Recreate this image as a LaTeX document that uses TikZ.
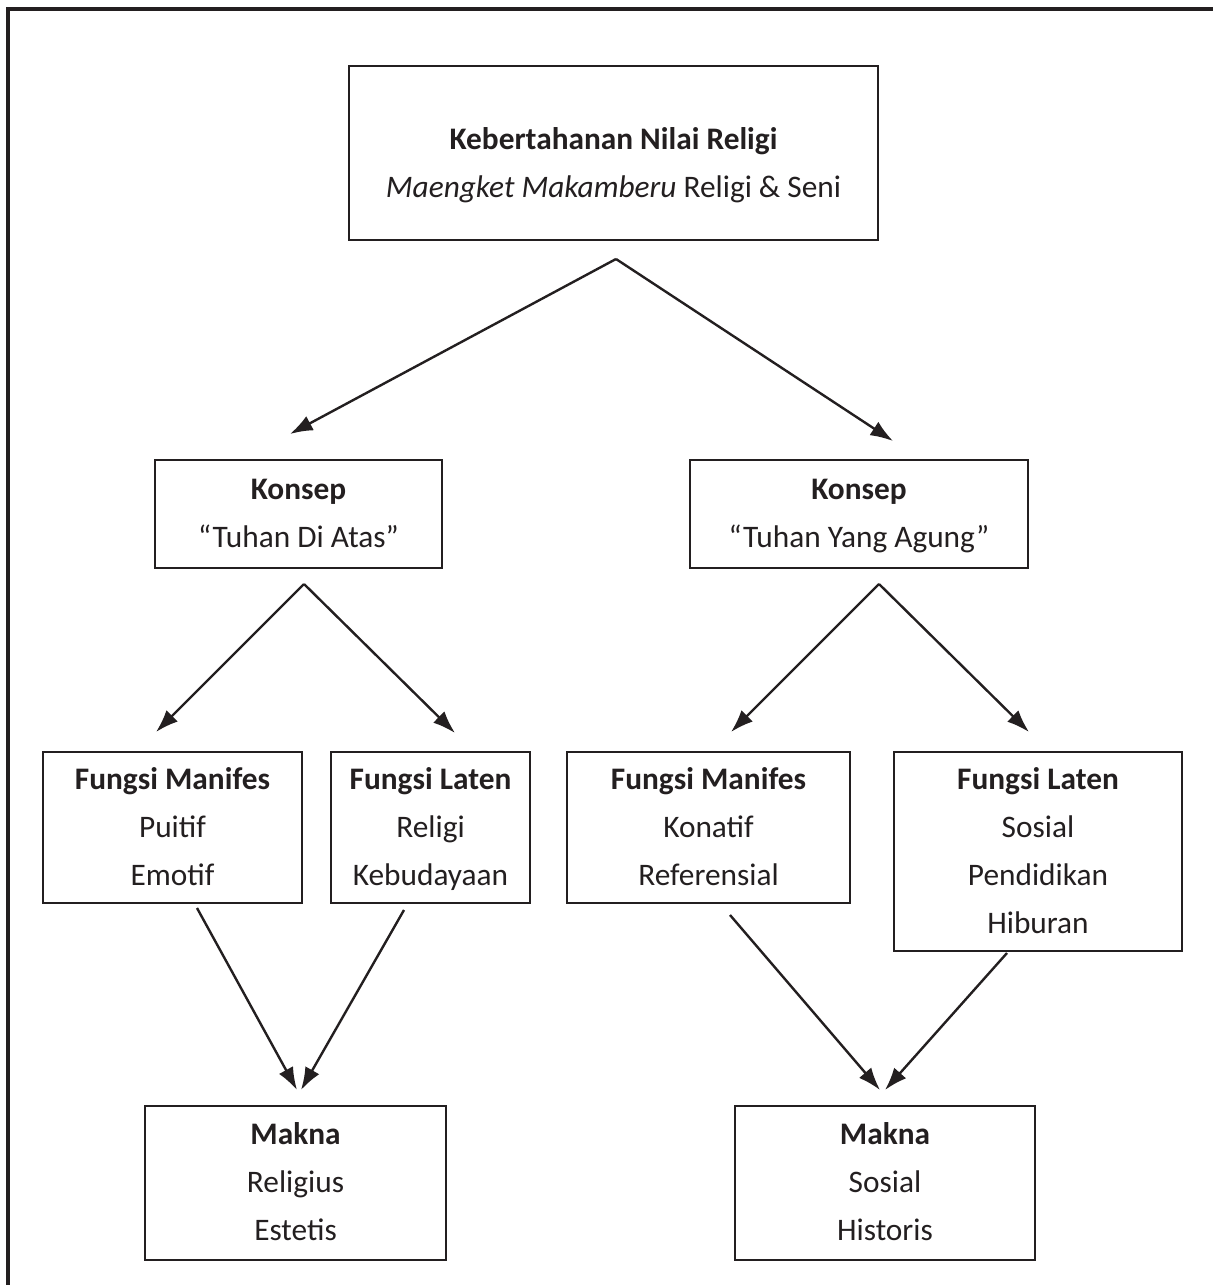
\documentclass[tikz,border=0pt]{standalone}
\usepackage{fontspec}
\setmainfont{Carlito}
\usetikzlibrary{arrows.meta}
\definecolor{ink}{HTML}{231F20}
\begin{document}
\begin{tikzpicture}[x=0.75pt,y=-0.75pt,
  box/.style={draw=ink, line width=2pt, inner sep=0pt, align=center, text=ink,
    font=\fontsize{23.5}{36}\selectfont},
  arr/.style={draw=ink, line width=1.8pt, -{Latex[length=17pt,width=12pt]}},
  frame/.style={draw=ink, line width=2.6pt}]
\useasboundingbox (0,0) rectangle (1213,1285);
\coordinate (f1) at (8,1285);
\coordinate (f2) at (8,9);
\coordinate (f3) at (1213,9);
\draw[frame] (f1) -- (f2) -- (f3);

\node[box, minimum width=396.75pt, minimum height=130.5pt] (top) at (613.5,153)
  {\rule{0pt}{41pt}\textbf{Kebertahanan Nilai Religi}\\\textit{Maengket Makamberu} Religi \& Seni\strut};
\node[box, minimum width=215.25pt, minimum height=81pt] (kL) at (298.5,514)
  {\strut\textbf{Konsep}\\“Tuhan Di Atas”\strut};
\node[box, minimum width=253.5pt, minimum height=81pt] (kR) at (859,514)
  {\strut\textbf{Konsep}\\“Tuhan Yang Agung”\strut};
\node[box, minimum width=194.25pt, minimum height=113.25pt] (mL) at (172.5,827.5)
  {\strut\textbf{Fungsi Manifes}\\Puitif\\Emotif\strut};
\node[box, minimum width=149.25pt, minimum height=113.25pt] (lL) at (430.5,827.5)
  {\strut\textbf{Fungsi Laten}\\Religi\\Kebudayaan\strut};
\node[box, minimum width=212.25pt, minimum height=113.25pt] (mR) at (708.5,827.5)
  {\strut\textbf{Fungsi Manifes}\\Konatif\\Referensial\strut};
\node[box, minimum width=216pt, minimum height=149.25pt] (lR) at (1038,851.5)
  {\strut\textbf{Fungsi Laten}\\Sosial\\Pendidikan\\Hiburan\strut};
\node[box, minimum width=225.75pt, minimum height=115.5pt] (nL) at (295.5,1183)
  {\strut\textbf{Makna}\\Religius\\Estetis\strut};
\node[box, minimum width=225pt, minimum height=115.5pt] (nR) at (885,1183)
  {\strut\textbf{Makna}\\Sosial\\Historis\strut};

\coordinate (a0) at (616,259);
\coordinate (t1) at (290,434);
\coordinate (t2) at (893,441);
\coordinate (b0) at (304,584);
\coordinate (t3) at (156,732);
\coordinate (t4) at (455,733);
\coordinate (c0) at (879,584);
\coordinate (t5) at (731,732);
\coordinate (t6) at (1029,732);
\coordinate (s1) at (197,908);
\coordinate (s2) at (404,910);
\coordinate (s3) at (730,915);
\coordinate (s4) at (1007,953);
\coordinate (e1) at (297,1090);
\coordinate (e2) at (301,1090);
\coordinate (e3) at (880,1090);
\coordinate (e4) at (885,1090);

\draw[arr] (a0) -- (t1);
\draw[arr] (a0) -- (t2);
\draw[arr] (b0) -- (t3);
\draw[arr] (b0) -- (t4);
\draw[arr] (c0) -- (t5);
\draw[arr] (c0) -- (t6);
\draw[arr] (s1) -- (e1);
\draw[arr] (s2) -- (e2);
\draw[arr] (s3) -- (e3);
\draw[arr] (s4) -- (e4);
\end{tikzpicture}
\end{document}
